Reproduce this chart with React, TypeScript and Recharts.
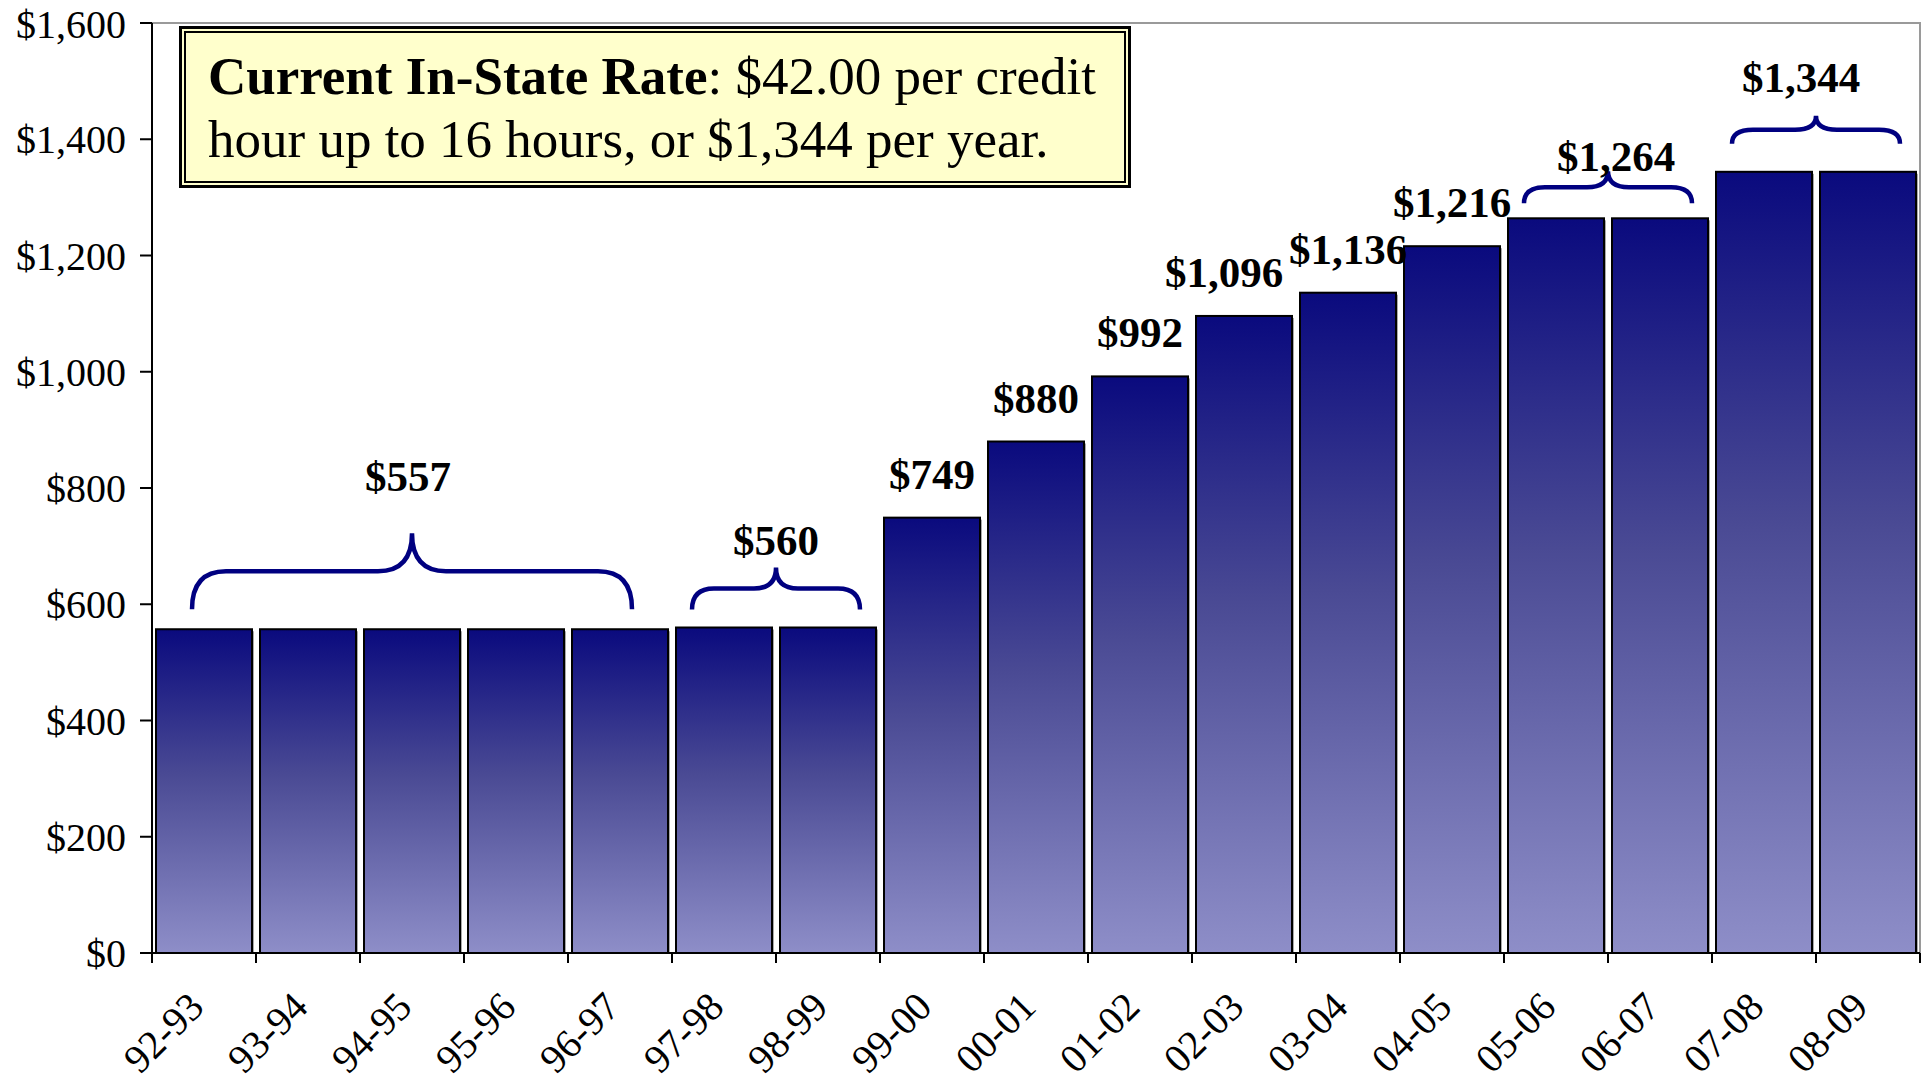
import React from 'react';
import {
  BarChart,
  Bar,
  XAxis,
  YAxis,
  LabelList,
  ReferenceArea,
} from 'recharts';

// school years on the x axis
const CATEGORIES = [
  '92-93', '93-94', '94-95', '95-96', '96-97', '97-98', '98-99', '99-00',
  '00-01', '01-02', '02-03', '03-04', '04-05', '05-06', '06-07', '07-08', '08-09',
];

// yearly in-state tuition, dollars
const TUITION = [
  557, 557, 557, 557, 557, 560, 560, 749, 880, 992, 1096, 1136, 1216, 1264, 1264, 1344, 1344,
];

const Y_TICKS = [0, 200, 400, 600, 800, 1000, 1200, 1400, 1600];

// years that share one rate get a brace instead of per-bar labels
const BRACE_FROM = ['92-93', '97-98', '05-06', '07-08'];
const BRACE_TO = ['96-97', '98-99', '06-07', '08-09'];

// drawing tweaks for each brace (pixels)
const BRACE_LAYOUT = [
  { inset: 40, lift: 20, height: 76, r: 34, labelGap: 42, labelDx: -4 },
  { inset: 20, lift: 18, height: 42, r: 22, labelGap: 13, labelDx: 0 },
  { inset: 20, lift: 15, height: 32, r: 21, labelGap: 0, labelDx: 8 },
  { inset: 20, lift: 28, height: 28, r: 21, labelGap: 24, labelDx: -15 },
];

// small nudge for labels that would collide
const LABEL_DX: Record<string, number> = { '02-03': -20 };

const FONT = '"Liberation Serif", "Times New Roman", serif';
const WIDTH = 1926;
const HEIGHT = 1081;
const Y_AXIS_W = 152;
const MARGIN = { top: 23, right: 6, bottom: 0, left: 0 };
const BAND = (WIDTH - MARGIN.right - MARGIN.left - Y_AXIS_W) / CATEGORIES.length;

const money = (v: number) => '$' + v.toLocaleString('en-US');

const data = CATEGORIES.map((year, i) => ({ year, tuition: TUITION[i] }));

const inBrace = (year: string) => {
  const idx = CATEGORIES.indexOf(year);
  return BRACE_FROM.some((f, b) => {
    const a = CATEGORIES.indexOf(f);
    const z = CATEGORIES.indexOf(BRACE_TO[b]);
    return idx >= a && idx <= z;
  });
};

const BarShape = (props: any) => {
  const { x, y, width, height } = props;
  if (!height || height <= 0) return null;
  return (
    <g>
      <rect x={x + 2} y={y + 2} width={width} height={height - 2} fill="#a8a8a8" />
      <rect x={x} y={y} width={width} height={height} fill="url(#barGrad)" stroke="#000" strokeWidth={2} />
    </g>
  );
};

const ValueLabel = (props: any) => {
  const { x, y, width, index } = props;
  const year = CATEGORIES[index];
  if (inBrace(year)) return null;
  const dx = LABEL_DX[year] || 0;
  return (
    <text
      x={x + width / 2 + dx}
      y={y - 29}
      textAnchor="middle"
      fontFamily={FONT}
      fontWeight="bold"
      fontSize={43}
      fill="#000"
    >
      {money(TUITION[index])}
    </text>
  );
};

const makeBrace = (b: number) => (props: any) => {
  const { x, y, width } = props;
  const L = BRACE_LAYOUT[b];
  const x1 = x + L.inset;
  const x2 = x + width - L.inset;
  const xm = (x1 + x2) / 2;
  const yb = y - L.lift;
  const ym = yb - L.height / 2;
  const yt = yb - L.height;
  const r = L.r;
  const d =
    `M ${x1} ${yb} Q ${x1} ${ym} ${x1 + r} ${ym} L ${xm - r} ${ym} Q ${xm} ${ym} ${xm} ${yt} ` +
    `M ${xm} ${yt} Q ${xm} ${ym} ${xm + r} ${ym} L ${x2 - r} ${ym} Q ${x2} ${ym} ${x2} ${yb}`;
  const value = TUITION[CATEGORIES.indexOf(BRACE_FROM[b])];
  return (
    <g>
      <path d={d} fill="none" stroke="#000080" strokeWidth={4.5} strokeLinecap="butt" />
      <text
        x={xm + L.labelDx}
        y={yt - L.labelGap}
        textAnchor="middle"
        fontFamily={FONT}
        fontWeight="bold"
        fontSize={43}
        fill="#000"
      >
        {money(value)}
      </text>
    </g>
  );
};

const XTick = (props: any) => {
  const { x, y, payload, index } = props;
  const band = props.width ? props.width / CATEGORIES.length : BAND;
  const left = x - band / 2;
  const ty = y + 56;
  return (
    <g>
      <line x1={left} y1={y} x2={left} y2={y + 10} stroke="#000" strokeWidth={2} />
      {index === CATEGORIES.length - 1 && (
        <line x1={x + band / 2} y1={y} x2={x + band / 2} y2={y + 10} stroke="#000" strokeWidth={2} />
      )}
      <text
        x={x + 2}
        y={ty}
        textAnchor="end"
        transform={`rotate(-45 ${x + 2} ${ty})`}
        fontFamily={FONT}
        fontSize={40}
        fill="#000"
      >
        {payload.value}
      </text>
    </g>
  );
};

export default function App() {
  return (
    <div
      style={{
        position: 'fixed',
        left: 0,
        top: 0,
        width: WIDTH,
        height: HEIGHT,
        background: '#fff',
        overflow: 'hidden',
        fontFamily: FONT,
      }}
    >
      <BarChart width={WIDTH} height={HEIGHT} data={data} margin={MARGIN} barCategoryGap={4}>
        <defs>
          <linearGradient id="barGrad" x1="0" y1="0" x2="0" y2="1">
            <stop offset="0%" stopColor="#0a0a7e" />
            <stop offset="45%" stopColor="#4a4a94" />
            <stop offset="100%" stopColor="#8e8ec8" />
          </linearGradient>
        </defs>
        <XAxis
          dataKey="year"
          height={128}
          interval={0}
          tickLine={false}
          tickSize={0}
          tickMargin={0}
          axisLine={{ stroke: '#000', strokeWidth: 2 }}
          tick={<XTick />}
        />
        <YAxis
          width={Y_AXIS_W}
          domain={[0, 1600]}
          ticks={Y_TICKS}
          tickFormatter={money}
          tickSize={12}
          tickMargin={14}
          axisLine={{ stroke: '#000', strokeWidth: 2 }}
          tickLine={{ stroke: '#000', strokeWidth: 2 }}
          tick={{ fontFamily: FONT, fontSize: 40, fill: '#000' }}
        />
        <ReferenceArea
          x1={CATEGORIES[0]}
          x2={CATEGORIES[CATEGORIES.length - 1]}
          y1={0}
          y2={1600}
          fill="none"
          stroke="#9a9a9a"
          strokeWidth={2}
        />
        <Bar dataKey="tuition" shape={<BarShape />} isAnimationActive={false}>
          <LabelList dataKey="tuition" content={<ValueLabel />} />
        </Bar>
        {BRACE_FROM.map((from, b) => (
          <ReferenceArea
            key={from}
            x1={from}
            x2={BRACE_TO[b]}
            y1={0}
            y2={TUITION[CATEGORIES.indexOf(from)]}
            shape={makeBrace(b)}
          />
        ))}
      </BarChart>
      <div
        style={{
          position: 'absolute',
          left: 179,
          top: 26,
          width: 952,
          height: 162,
          boxSizing: 'border-box',
          background: '#ffffcc',
          border: '3px solid #000',
          boxShadow: 'inset 0 0 0 2px #ffffcc, inset 0 0 0 4px #000',
          padding: '16px 0 0 26px',
          fontSize: 53,
          lineHeight: '63px',
          color: '#000',
          whiteSpace: 'nowrap',
        }}
      >
        <div>
          <b>Current In-State Rate</b>: $42.00 per credit
        </div>
        <div>hour up to 16 hours, or $1,344 per year.</div>
      </div>
    </div>
  );
}
